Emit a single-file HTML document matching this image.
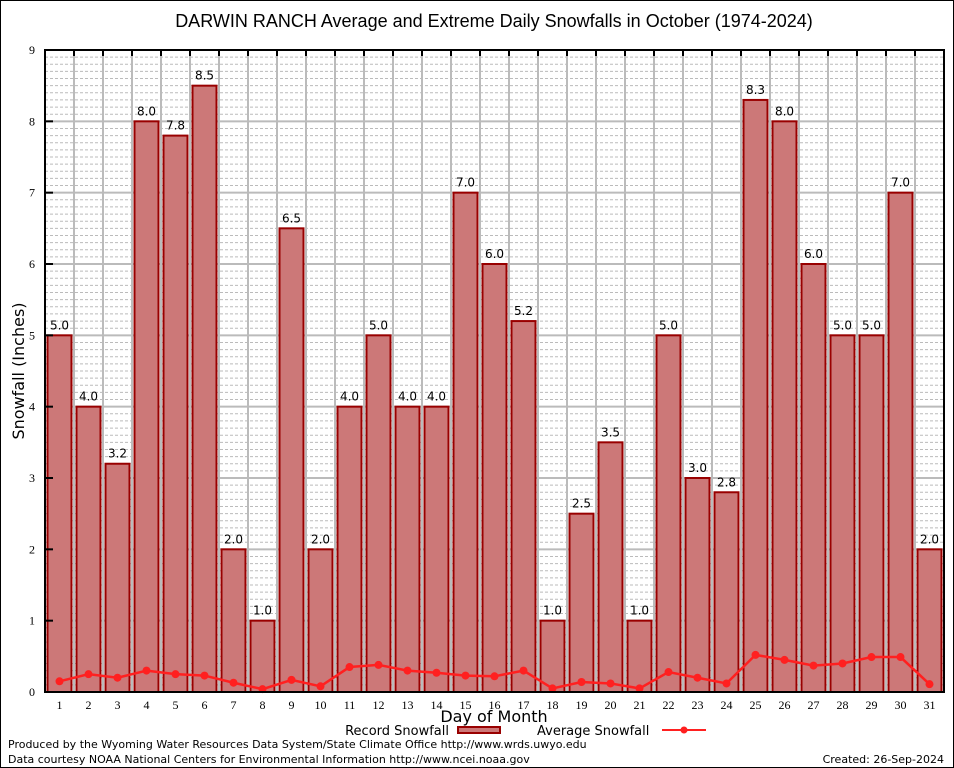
<!DOCTYPE html>
<html><head><meta charset="utf-8"><style>
body{margin:0;background:#fff}
svg{display:block;font-family:"DejaVu Sans","Liberation Sans",sans-serif}
</style></head><body>
<svg id="chart" width="954" height="768" viewBox="0 0 954 768">
<rect x="0.5" y="0.5" width="953" height="767" fill="#fff" stroke="#000"/>
<text x="494" y="27" font-size="18" text-anchor="middle" font-family="Liberation Sans,sans-serif">DARWIN RANCH Average and Extreme Daily Snowfalls in October (1974-2024)</text>
<g id="grid"></g><g id="bars"></g><g id="avg"></g><g id="axes"></g>
<text transform="translate(24,371) rotate(-90)" font-size="16" text-anchor="middle">Snowfall (Inches)</text>
<text x="494" y="722" font-size="16" text-anchor="middle">Day of Month</text>
<g>
<text x="449" y="735" font-size="13" text-anchor="end">Record Snowfall</text>
<rect x="458" y="727" width="42" height="6" fill="#cc7878" stroke="#900" stroke-width="2"/>
<text x="537" y="735" font-size="13">Average Snowfall</text>
<line x1="662" y1="730" x2="706" y2="730" stroke="#ff2020" stroke-width="2"/>
<circle cx="684" cy="730" r="3.5" fill="#ff2020"/>
</g>
<text x="8" y="748" font-size="11">Produced by the Wyoming Water Resources Data System/State Climate Office http://www.wrds.uwyo.edu</text>
<text x="8" y="763" font-size="11">Data courtesy NOAA National Centers for Environmental Information http://www.ncei.noaa.gov</text>
<text x="944" y="763" font-size="11" text-anchor="end">Created: 26-Sep-2024</text>
</svg>
<script>
const days=[1,2,3,4,5,6,7,8,9,10,11,12,13,14,15,16,17,18,19,20,21,22,23,24,25,26,27,28,29,30,31];
const records=[5.0,4.0,3.2,8.0,7.8,8.5,2.0,1.0,6.5,2.0,4.0,5.0,4.0,4.0,7.0,6.0,5.2,1.0,2.5,3.5,1.0,5.0,3.0,2.8,8.3,8.0,6.0,5.0,5.0,7.0,2.0];
const averages=[0.15,0.25,0.2,0.3,0.25,0.23,0.13,0.04,0.17,0.08,0.35,0.38,0.3,0.27,0.23,0.22,0.3,0.05,0.14,0.12,0.05,0.28,0.2,0.12,0.52,0.45,0.37,0.4,0.49,0.49,0.11];
const yTicks=[0,1,2,3,4,5,6,7,8,9];
const NS='http://www.w3.org/2000/svg';
const L=45,R=944,T=50,B=692,YMAX=9,slot=(R-L)/days.length;
const x=d=>L+(d-0.5)*slot, y=v=>B-(v/YMAX)*(B-T);
function mk(tag,at,parent){const e=document.createElementNS(NS,tag);for(const k in at)e.setAttribute(k,at[k]);document.getElementById(parent).appendChild(e);return e;}
for(let m=1;m<YMAX*10;m++){if(m%10===0)continue;const e=mk('line',{x1:L,x2:R,y1:y(m/10),y2:y(m/10),stroke:'#bbb','stroke-dasharray':'3,2','stroke-width':1},'grid');

}
yTicks.forEach(t=>{const e=mk('line',{x1:L,x2:R,y1:y(t),y2:y(t),stroke:'#bbb','stroke-width':2},'grid');


const lb=mk('text',{x:L-10,y:y(t)+4,'font-size':12,'text-anchor':'end','font-family':'Liberation Serif,serif'},'axes');lb.textContent=t;


const tk=mk('line',{x1:L,x2:L+8,y1:y(t),y2:y(t),stroke:'#000','stroke-width':2},'axes');

});
for(let k=1;k<days.length;k++){const xv=L+k*slot;const e=mk('line',{x1:xv,x2:xv,y1:T,y2:B,stroke:'#bbb','stroke-width':2},'grid');


const tk=mk('line',{x1:xv,x2:xv,y1:T,y2:T+6,stroke:'#000','stroke-width':2},'axes');

}
days.forEach((d,i)=>{const v=records[i];const b=mk('rect',{x:x(d)-12,y:y(v),width:24,height:B-y(v),fill:'#cc7878',stroke:'#990000','stroke-width':2},'bars');


const t=mk('text',{x:x(d),y:y(v)-6,'font-size':12,'text-anchor':'middle'},'bars');t.textContent=v.toFixed(1);


const xl=mk('text',{x:x(d),y:B+17,'font-size':12,'text-anchor':'middle','font-family':'Liberation Serif,serif'},'axes');xl.textContent=d;

});
const p=mk('polyline',{points:days.map((d,i)=>x(d)+','+y(averages[i])).join(' '),fill:'none',stroke:'#ff2020','stroke-width':2.5},'avg');


days.forEach((d,i)=>{const c=mk('circle',{cx:x(d),cy:y(averages[i]),r:4,fill:'#ff2020'},'avg');

});
const ax=mk('rect',{x:L,y:T,width:R-L,height:B-T,fill:'none',stroke:'#000','stroke-width':2},'axes');


</script>
</body></html>
